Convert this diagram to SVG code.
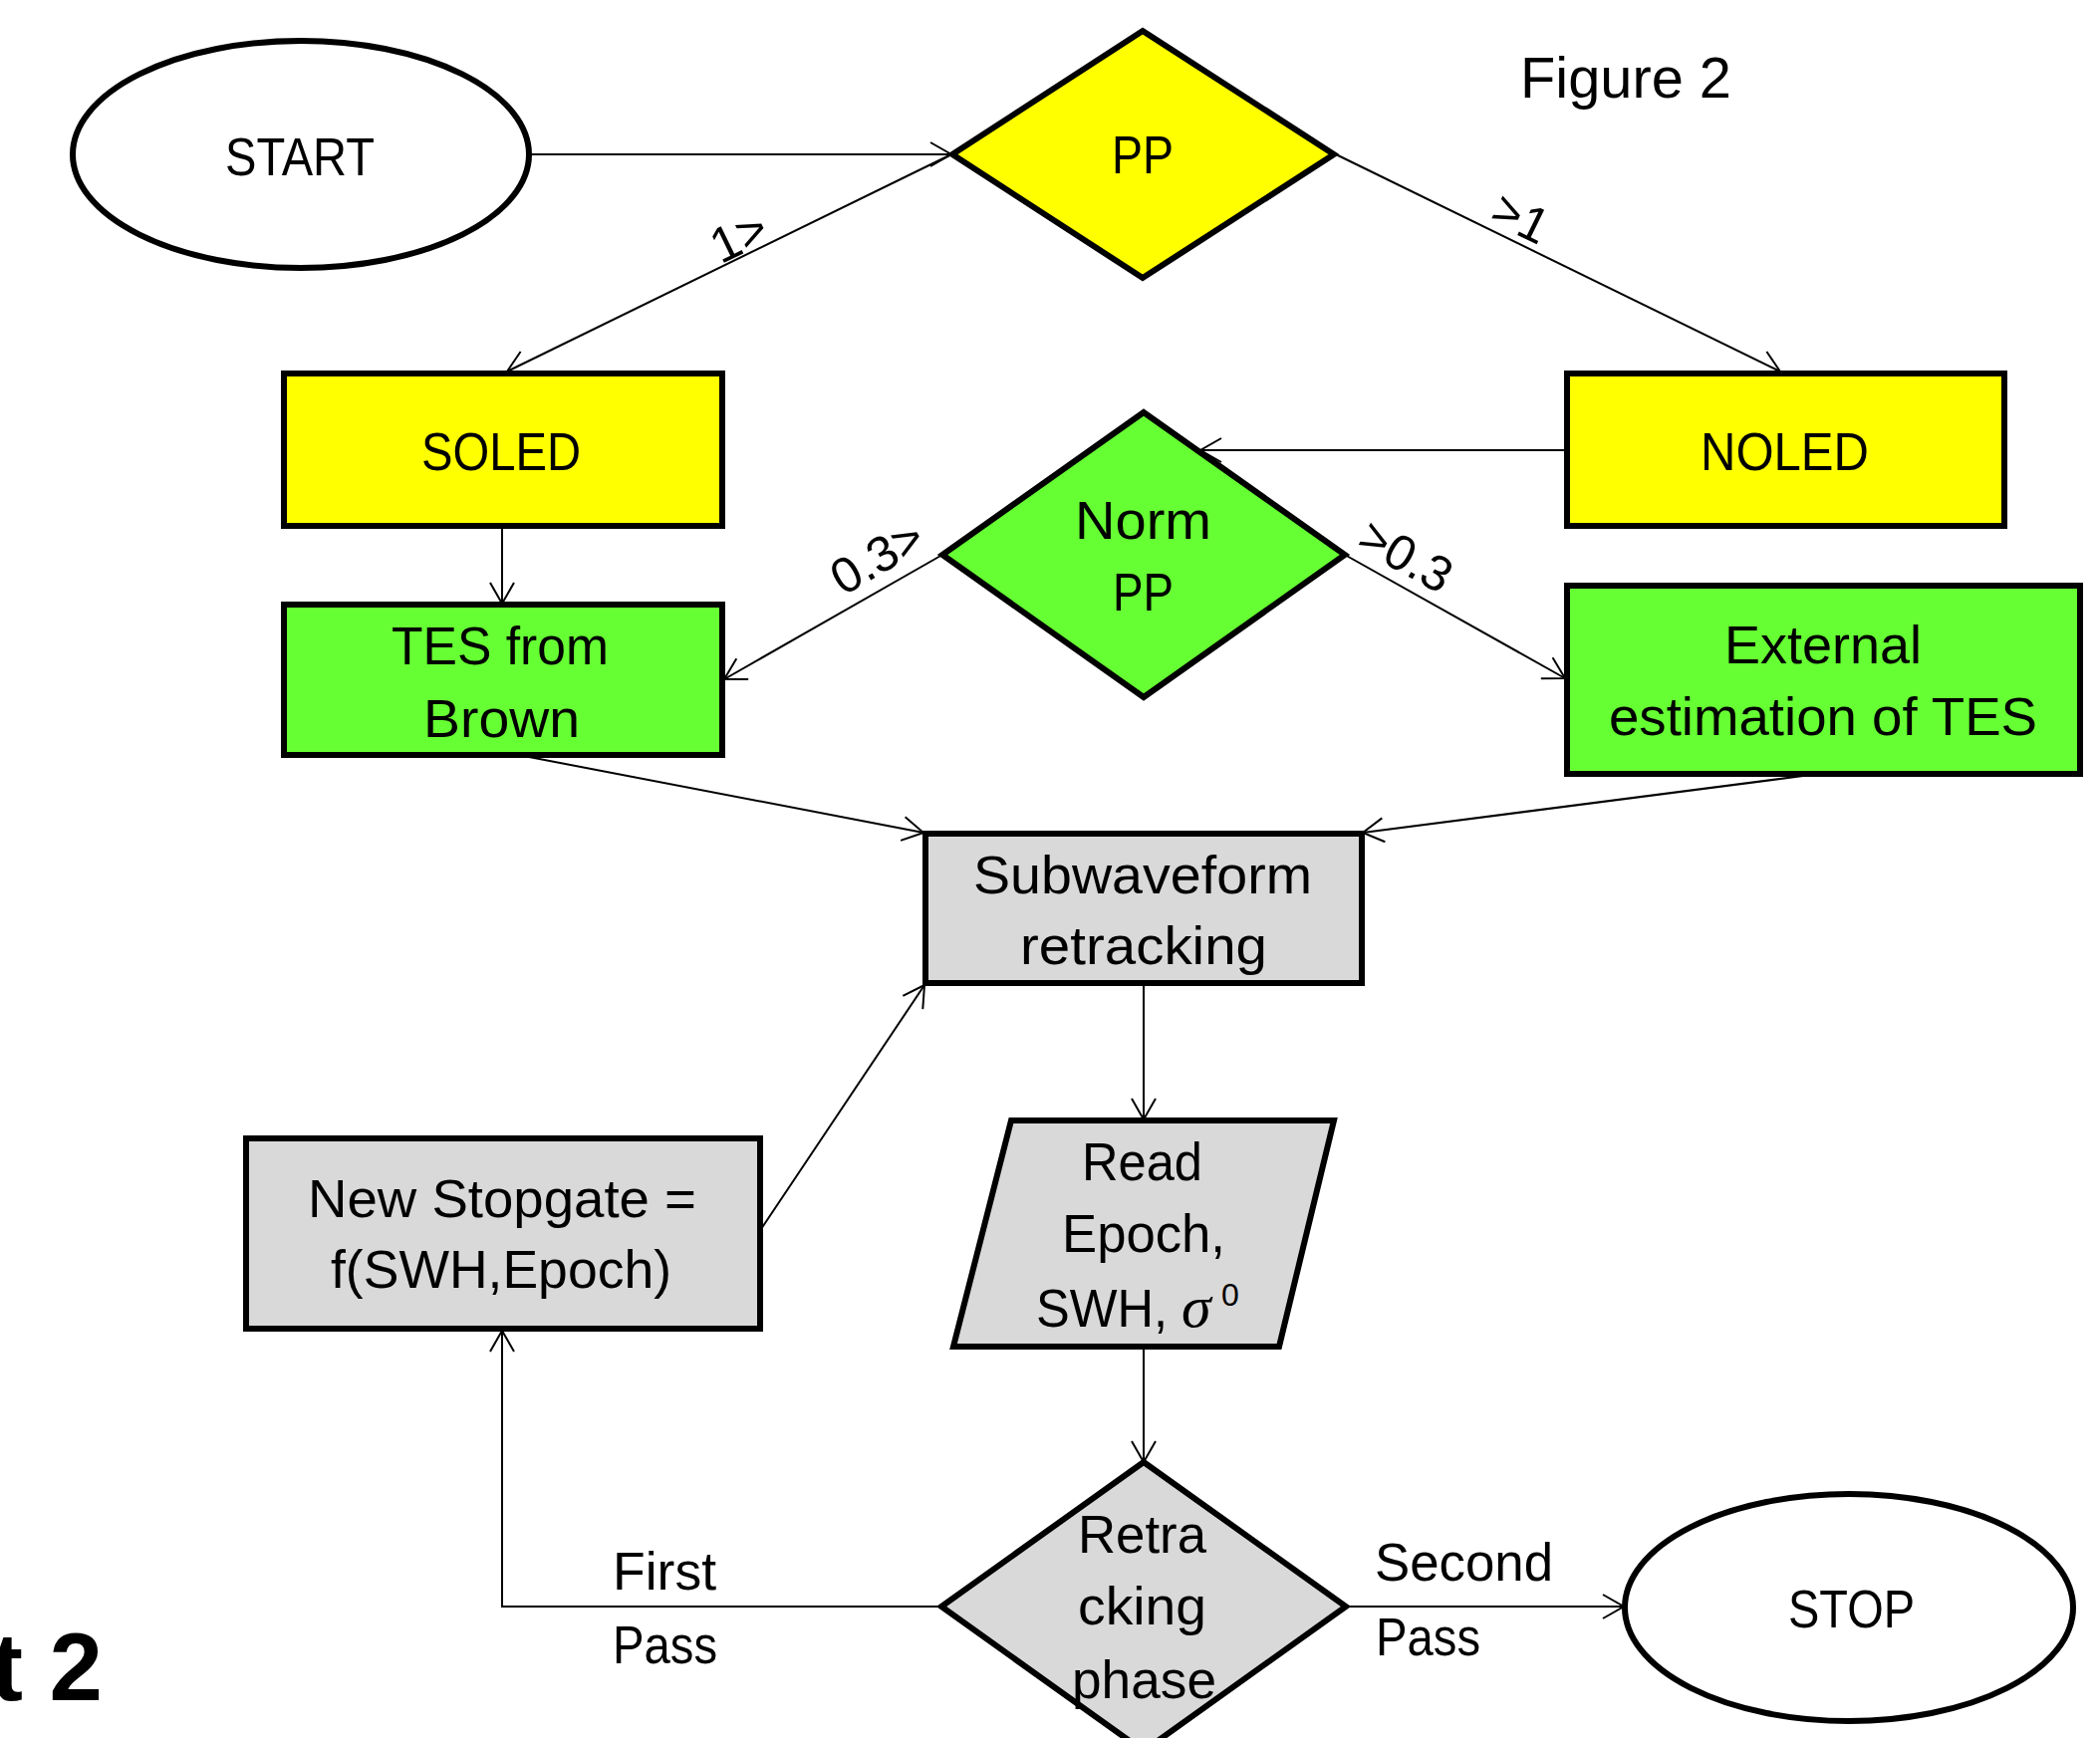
<svg xmlns="http://www.w3.org/2000/svg" width="2108" height="1745" viewBox="0 0 2108 1745">
<style>
.shape{stroke:#000;stroke-width:6;stroke-linejoin:miter}
.yel{fill:#FFFF00}
.grn{fill:#66FF33}
.gry{fill:#D9D9D9}
.wht{fill:#FFFFFF}
.t{font-family:"Liberation Sans",Arial,sans-serif;font-size:53px;fill:#000}
.lbl{font-family:"Liberation Sans",Arial,sans-serif;font-size:50px;fill:#000;text-anchor:middle}
.conn{stroke:#000;stroke-width:2;fill:none}
</style>
<defs>
<marker id="arr" markerUnits="userSpaceOnUse" markerWidth="28" markerHeight="28" refX="23" refY="13" orient="auto">
<path d="M2,1 L23,13 L2,25" fill="none" stroke="#000" stroke-width="2"/>
</marker>
</defs>
<rect width="2108" height="1745" fill="#FFFFFF"/>

<g id="connectors">
<path class="conn" d="M531,155 L955,155" marker-end="url(#arr)"/>
<path class="conn" d="M955,155 L509,373" marker-end="url(#arr)"/>
<path class="conn" d="M1341,155 L1787,373" marker-end="url(#arr)"/>
<path class="conn" d="M1573,452 L1205,452" marker-end="url(#arr)"/>
<path class="conn" d="M946,557 L727,682" marker-end="url(#arr)"/>
<path class="conn" d="M1350,557 L1571,681" marker-end="url(#arr)"/>
<path class="conn" d="M504,528 L504,606" marker-end="url(#arr)"/>
<path class="conn" d="M531,760 L927,836" marker-end="url(#arr)"/>
<path class="conn" d="M1810,779 L1368,836" marker-end="url(#arr)"/>
<path class="conn" d="M764,1234 L928,989" marker-end="url(#arr)"/>
<path class="conn" d="M1148,988 L1148,1124" marker-end="url(#arr)"/>
<path class="conn" d="M1148,1353 L1148,1468" marker-end="url(#arr)"/>
<path class="conn" d="M945,1613 L504,1613 L504,1336" marker-end="url(#arr)"/>
<path class="conn" d="M1351,1613 L1630,1613" marker-end="url(#arr)"/>
<text class="lbl" transform="translate(749,253) rotate(-26)">1&gt;</text>
<text class="lbl" transform="translate(1519,234) rotate(26)">&gt;1</text>
<text class="lbl" transform="translate(889,574) rotate(-30)">0.3&gt;</text>
<text class="lbl" transform="translate(1403,573) rotate(29)">&gt;0.3</text>
<text x="615" y="1596" class="t" textLength="104" lengthAdjust="spacingAndGlyphs">First</text>
<text x="615" y="1670" class="t" textLength="105" lengthAdjust="spacingAndGlyphs">Pass</text>
<text x="1380" y="1587" class="t" textLength="179" lengthAdjust="spacingAndGlyphs">Second</text>
<text x="1381" y="1662" class="t" textLength="105" lengthAdjust="spacingAndGlyphs">Pass</text>
</g>

<g id="start">
<ellipse class="shape wht" cx="302" cy="155" rx="229" ry="114"/>
<text class="t" x="226" y="176" textLength="150" lengthAdjust="spacingAndGlyphs">START</text>
</g>

<g id="pp">
<polygon class="shape yel" points="1147,31 1339,155 1147,279 956,155"/>
<text class="t" x="1116" y="174" textLength="62" lengthAdjust="spacingAndGlyphs">PP</text>
</g>

<g id="figure-title">
<text class="t" x="1526" y="98" textLength="212" lengthAdjust="spacingAndGlyphs" style="font-size:58px">Figure 2</text>
</g>

<g id="soled">
<rect class="shape yel" x="285" y="375" width="440" height="153"/>
<text class="t" x="423" y="472" textLength="160" lengthAdjust="spacingAndGlyphs">SOLED</text>
</g>

<g id="noled">
<rect class="shape yel" x="1573" y="375" width="439" height="153"/>
<text class="t" x="1707" y="472" textLength="169" lengthAdjust="spacingAndGlyphs">NOLED</text>
</g>

<g id="normpp">
<polygon class="shape grn" points="1148,414 1350,557 1148,700 946,557"/>
<text class="t" x="1079" y="541" textLength="137" lengthAdjust="spacingAndGlyphs">Norm</text>
<text class="t" x="1117" y="613" textLength="61" lengthAdjust="spacingAndGlyphs">PP</text>
</g>

<g id="tes-brown">
<rect class="shape grn" x="285" y="607" width="440" height="151"/>
<text class="t" x="393" y="667" textLength="218" lengthAdjust="spacingAndGlyphs">TES from</text>
<text class="t" x="425" y="740" textLength="157" lengthAdjust="spacingAndGlyphs">Brown</text>
</g>

<g id="external">
<rect class="shape grn" x="1573" y="588" width="515" height="189"/>
<text class="t" x="1731" y="666" textLength="198" lengthAdjust="spacingAndGlyphs">External</text>
<text class="t" x="1615" y="738" textLength="430" lengthAdjust="spacingAndGlyphs">estimation of TES</text>
</g>

<g id="subwaveform">
<rect class="shape gry" x="929" y="837" width="438" height="150"/>
<text class="t" x="977" y="897" textLength="340" lengthAdjust="spacingAndGlyphs">Subwaveform</text>
<text class="t" x="1024" y="968" textLength="248" lengthAdjust="spacingAndGlyphs">retracking</text>
</g>

<g id="read">
<polygon class="shape gry" points="1015,1125 1339,1125 1284,1352 957,1352"/>
<text class="t" x="1086" y="1185" textLength="121" lengthAdjust="spacingAndGlyphs">Read</text>
<text class="t" x="1066" y="1257" textLength="164" lengthAdjust="spacingAndGlyphs">Epoch,</text>
<text class="t" x="1040" y="1332" textLength="132" lengthAdjust="spacingAndGlyphs">SWH,</text>
<text x="1186" y="1332" style="font-family:'Liberation Serif','Times New Roman',serif;font-style:italic;font-size:60px">σ</text>
<text x="1226" y="1311" style="font-family:'Liberation Sans',Arial,sans-serif;font-size:32px">0</text>
</g>

<g id="stopgate">
<rect class="shape gry" x="247" y="1143" width="516" height="191"/>
<text class="t" x="309" y="1222" textLength="390" lengthAdjust="spacingAndGlyphs">New Stopgate =</text>
<text class="t" x="332" y="1293" textLength="342" lengthAdjust="spacingAndGlyphs">f(SWH,Epoch)</text>
</g>

<g id="retracking-phase">
<polygon class="shape gry" points="1148,1468 1351,1613 1148,1758 945,1613"/>
<text class="t" x="1082" y="1559" textLength="129" lengthAdjust="spacingAndGlyphs">Retra</text>
<text class="t" x="1082" y="1631" textLength="129" lengthAdjust="spacingAndGlyphs">cking</text>
<text class="t" x="1076" y="1705" textLength="145" lengthAdjust="spacingAndGlyphs">phase</text>
</g>

<g id="stop">
<ellipse class="shape wht" cx="1856" cy="1614" rx="225" ry="114"/>
<text class="t" x="1795" y="1634" textLength="127" lengthAdjust="spacingAndGlyphs">STOP</text>
</g>

<g id="caption">
<text x="103" y="1707" text-anchor="end" style="font-family:'Liberation Sans',Arial,sans-serif;font-weight:bold;font-size:96px">t 2</text>
</g>
</svg>
